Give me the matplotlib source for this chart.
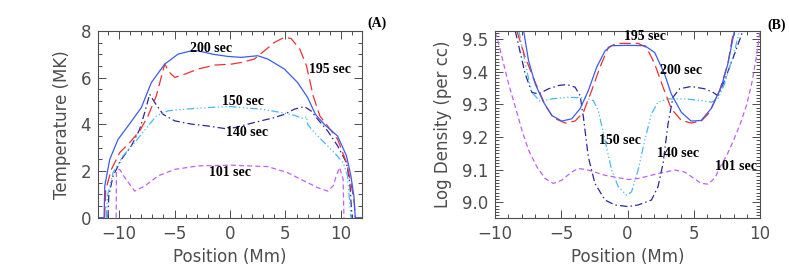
import numpy as np
import matplotlib.pyplot as plt
from matplotlib.ticker import MultipleLocator

# ---- panel A: temperature (MK) vs position (Mm) ----
a200_x = [-12, -11.35, -11.29, -10.84, -10.09, -9.19, -7.99, -7.69, -7.09, -5.89, -4.68, -3.48, -2.88,
          -1.5, -0.18, 1.0, 2.5, 3.4, 4.9, 6.1, 7.0, 7.7, 8.5, 9.7, 10.5, 10.9, 11.17, 11.29, 12]
a200_y = [0, 0, 1.36, 2.5, 3.36, 3.93, 4.72, 5.08, 5.79, 6.58, 7.01, 7.15, 7.15,
          7.0, 6.91, 6.87, 6.94, 6.8, 6.37, 5.79, 5.15, 4.43, 4.0, 3.5, 2.65, 1.79, 0.93, 0, 0]
a195_x = [-11.3, -11.2, -10.69, -9.94, -9.04, -8.14, -7.39, -6.64, -5.89, -5.44, -4.98, -4.08, -2.88,
          -1.38, 0.12, 1.0, 2.2, 3.1, 4.0, 4.9, 5.5, 6.3, 6.9, 7.5, 8.1, 8.8, 9.7, 10.5, 10.9, 11.2, 11.3]
a195_y = [0, 1.2, 2.07, 2.79, 3.22, 3.72, 4.36, 5.22, 6.58, 6.22, 6.01, 6.15, 6.37,
          6.54, 6.58, 6.65, 6.8, 7.15, 7.51, 7.73, 7.68, 7.22, 6.5, 5.22, 4.36, 3.93, 3.36, 2.36, 1.5, 0.64, 0]
a150_x = [-11.14, -11.05, -10.54, -9.64, -8.59, -7.39, -6.64, -5.59, -4.08, -1.98, 0.12, 1.0, 2.8,
          4.6, 5.8, 6.6, 6.9, 7.0, 7.6, 8.5, 9.4, 10.2, 10.6, 10.9]
a150_y = [0, 0.93, 1.93, 2.65, 3.22, 3.93, 4.36, 4.58, 4.65, 4.72, 4.76, 4.72, 4.65,
          4.51, 4.39, 4.25, 4.33, 4.0, 3.65, 3.22, 2.79, 2.36, 1.79, 0]
a140_x = [-11.0, -10.93, -10.54, -9.79, -8.89, -8.14, -7.69, -7.24, -6.79, -6.04, -4.98, -3.48, -1.98,
          -0.48, 0.42, 2.2, 4.0, 4.9, 5.8, 6.7, 7.3, 7.9, 8.8, 9.7, 10.5, 10.8, 11.0]
a140_y = [0, 0.93, 1.79, 2.5, 3.08, 3.79, 4.51, 5.29, 4.94, 4.43, 4.15, 4.01, 3.93,
          3.82, 3.86, 4.08, 4.29, 4.43, 4.65, 4.76, 4.58, 4.22, 3.72, 3.08, 2.36, 1.5, 0]
a101_x = [-10.26, -10.24, -10.1, -9.94, -9.49, -8.59, -7.69, -6.49, -4.98, -2.88, 0.12, 1.6, 3.4,
          5.2, 6.7, 7.9, 8.8, 9.3, 9.58, 9.88, 10.2, 10.27]
a101_y = [0, 1.93, 2.05, 2.07, 1.72, 1.14, 1.36, 1.79, 2.07, 2.22, 2.25, 2.22, 2.19,
          1.93, 1.57, 1.29, 1.14, 1.36, 1.79, 2.15, 1.65, 0]

# ---- panel B: log density (per cc) vs position (Mm) ----
b200_x = [-7.84, -7.47, -6.97, -6.34, -5.71, -4.96, -4.21, -3.58, -2.96, -2.33, -1.7, -1.2, 0.05,
          1.3, 2.05, 2.8, 3.3, 4.06, 4.8, 5.56, 6.3, 7.07, 7.57, 8.07]
b200_y = [9.525, 9.434, 9.363, 9.307, 9.266, 9.249, 9.256, 9.287, 9.342, 9.414, 9.464, 9.48, 9.481,
          9.48, 9.459, 9.393, 9.332, 9.276, 9.249, 9.251, 9.287, 9.353, 9.424, 9.525]
b195_x = [-8.35, -7.72, -6.97, -6.2, -5.59, -4.71, -3.96, -3.33, -2.71, -2.08, -1.45, -0.83, 0.05,
          0.8, 1.43, 2.05, 2.68, 3.3, 4.06, 4.8, 5.56, 6.2, 6.94, 7.57, 8.0]
b195_y = [9.525, 9.444, 9.368, 9.297, 9.259, 9.243, 9.249, 9.276, 9.342, 9.414, 9.475, 9.487, 9.487,
          9.487, 9.475, 9.424, 9.353, 9.287, 9.251, 9.243, 9.249, 9.276, 9.342, 9.424, 9.525]
b150_x = [-8.2, -7.6, -7.22, -6.59, -5.71, -4.46, -3.21, -2.58, -2.21, -1.7, -1.2, -0.7, -0.08,
          0.3, 0.8, 1.3, 1.8, 2.3, 3.06, 4.31, 5.56, 6.32, 6.82, 7.32, 8.07, 8.45]
b150_y = [9.525, 9.403, 9.337, 9.309, 9.317, 9.322, 9.32, 9.312, 9.282, 9.19, 9.099, 9.048, 9.022,
          9.032, 9.099, 9.19, 9.271, 9.307, 9.317, 9.317, 9.312, 9.307, 9.317, 9.363, 9.464, 9.525]
b140_x = [-8.47, -7.72, -7.22, -6.72, -5.96, -5.21, -4.59, -3.96, -3.58, -3.33, -2.96, -2.46, -1.7,
          -0.95, 0.05, 0.8, 1.8, 2.3, 2.68, 3.06, 3.43, 3.93, 4.8, 5.81, 6.44, 6.82, 7.32, 8.07, 8.7]
b140_y = [9.525, 9.393, 9.337, 9.332, 9.348, 9.358, 9.361, 9.353, 9.327, 9.261, 9.139, 9.058, 9.007,
          8.992, 8.987, 8.992, 9.007, 9.048, 9.119, 9.241, 9.322, 9.348, 9.355, 9.348, 9.337, 9.327,
          9.373, 9.454, 9.525]
b101_x = [-10.0, -9.85, -9.47, -8.97, -8.47, -7.97, -7.47, -6.84, -6.22, -5.59, -4.96, -4.21, -3.71,
          -2.96, -1.7, 0.05, 0.8, 2.3, 3.56, 4.31, 5.56, 6.07, 6.6, 7.0, 7.5, 8.0, 8.5, 9.0, 9.4,
          9.7, 10.0]
b101_y = [9.52, 9.505, 9.444, 9.363, 9.292, 9.221, 9.16, 9.109, 9.073, 9.058, 9.068, 9.093, 9.104,
          9.099, 9.083, 9.07, 9.073, 9.088, 9.099, 9.093, 9.058, 9.056, 9.075, 9.11, 9.145, 9.19,
          9.24, 9.3, 9.37, 9.44, 9.525]

# line styles for each run
BLUE = '#3a5cf0'
RED = '#f03030'
LBLUE = '#48b8f4'
DBLUE = '#28289c'
PURPLE = '#c060f8'
LONG_DASH = (0, (9, 4))
DASH_DOT = (0, (6, 2.5, 1.2, 2.5))
DASH_3DOT = (0, (6, 2, 1, 2, 1, 2, 1, 2))
SHORT_DASH = (0, (4, 2.5))

TICK_COLOR = '0.3'
plt.rcParams['font.family'] = 'DejaVu Sans'
ann = dict(family='Liberation Serif', fontweight='bold', fontsize=10, ha='center', va='center')

fig = plt.figure(figsize=(7.89, 2.8), dpi=100)
axA = fig.add_axes([0.1242, 0.2225, 0.3346, 0.6668])
axB = fig.add_axes([0.6274, 0.2225, 0.3359, 0.6668])

lw = 0.9
axA.plot(a101_x, a101_y, color=PURPLE, ls=SHORT_DASH, lw=lw)
axA.plot(a140_x, a140_y, color=DBLUE, ls=DASH_DOT, lw=lw)
axA.plot(a150_x, a150_y, color=LBLUE, ls=DASH_3DOT, lw=lw)
axA.plot(a195_x, a195_y, color=RED, ls=LONG_DASH, lw=lw)
axA.plot(a200_x, a200_y, color=BLUE, ls='-', lw=lw)

axB.plot(b101_x, b101_y, color=PURPLE, ls=SHORT_DASH, lw=lw)
axB.plot(b140_x, b140_y, color=DBLUE, ls=DASH_DOT, lw=lw)
axB.plot(b150_x, b150_y, color=LBLUE, ls=DASH_3DOT, lw=lw)
axB.plot(b195_x, b195_y, color=RED, ls=LONG_DASH, lw=lw)
axB.plot(b200_x, b200_y, color=BLUE, ls='-', lw=lw)

axA.set_xlim(-11.9, 11.9)
axA.set_ylim(0, 8)
axA.xaxis.set_major_locator(MultipleLocator(5))
axA.xaxis.set_minor_locator(MultipleLocator(1))
axA.yaxis.set_major_locator(MultipleLocator(2))
axA.yaxis.set_minor_locator(MultipleLocator(0.5))
axA.set_ylabel('Temperature (MK)', color=TICK_COLOR, fontsize=12, labelpad=7)

axB.set_xlim(-10, 10)
axB.set_ylim(8.953, 9.525)
axB.xaxis.set_major_locator(MultipleLocator(5))
axB.xaxis.set_minor_locator(MultipleLocator(1))
axB.yaxis.set_major_locator(MultipleLocator(0.1))
axB.yaxis.set_minor_locator(MultipleLocator(0.01))
axB.yaxis.set_major_formatter(plt.FormatStrFormatter('%.1f'))
axB.set_ylabel('Log Density (per cc)', color=TICK_COLOR, fontsize=12, labelpad=7)

for ax in (axA, axB):
    ax.set_xlabel('Position (Mm)', color=TICK_COLOR, fontsize=12, labelpad=4)
    ax.tick_params(which='both', direction='in', top=True, right=True, colors=TICK_COLOR,
                   labelsize=12, width=0.7)
    ax.tick_params(axis='x', which='major', length=6, pad=5)
    ax.tick_params(axis='y', which='major', length=6, pad=5)
    ax.tick_params(which='minor', length=3)
    for s in ax.spines.values():
        s.set_color(TICK_COLOR)
        s.set_linewidth(0.8)

# curve labels
axA.text(-1.7, 7.27, '200 sec', **ann)
axA.text(8.98, 6.37, '195 sec', **ann)
axA.text(1.2, 5.0, '150 sec', **ann)
axA.text(1.5, 3.67, '140 sec', **ann)
axA.text(0.0, 1.93, '101 sec', **ann)
axA.text(1.056, 1.04, '(A)', transform=axA.transAxes, **ann)

axB.text(1.31, 9.507, '195 sec', **ann)
axB.text(4.06, 9.405, '200 sec', **ann)
axB.text(-0.58, 9.19, '150 sec', **ann)
axB.text(3.8, 9.151, '140 sec', **ann)
axB.text(8.2, 9.11, '101 sec', **ann)
axB.text(1.063, 1.032, '(B)', transform=axB.transAxes, **ann)

fig.savefig('out.png', dpi=100)
